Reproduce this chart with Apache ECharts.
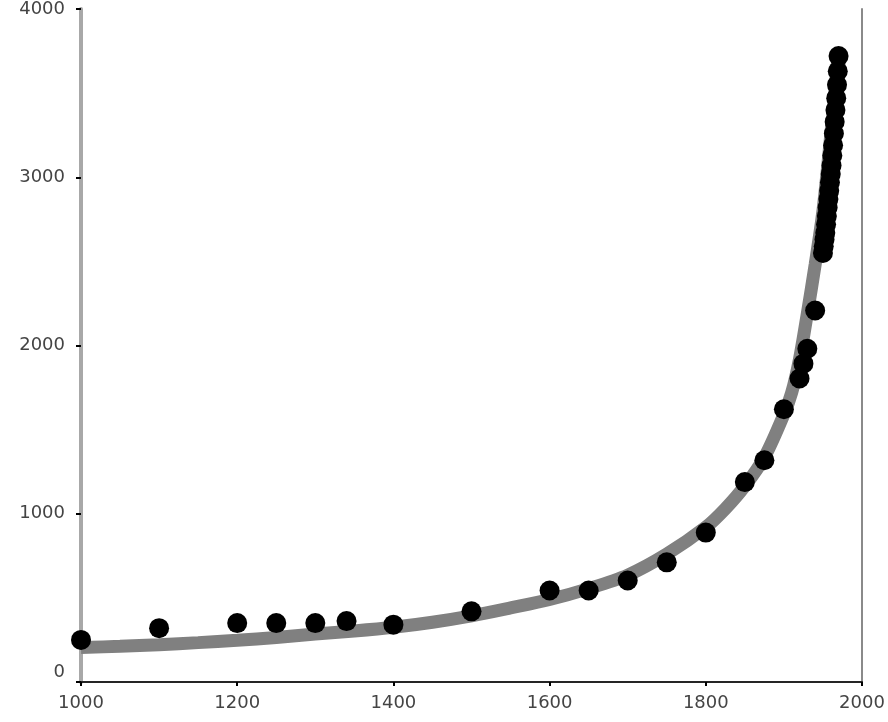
<!DOCTYPE html>
<html>
<head>
    <meta charset="utf-8" />
    <title></title>
    <style>
        html, body { margin: 0; padding: 0; background: #fff; }
        #chart { width: 888px; height: 722px; }
    </style>
</head>
<body>
    <div id="chart"></div>
    <script src="https://cdn.jsdelivr.net/npm/echarts@6/dist/echarts.min.js"></script>
    <script>
        // observed points (year, value)
        var years = [1000, 1100, 1200, 1250, 1300, 1340, 1400, 1500, 1600, 1650, 1700, 1750, 1800, 1850, 1875, 1900, 1920, 1925, 1930, 1940,
            1950, 1951, 1952, 1953, 1954, 1955, 1956, 1957, 1958, 1959, 1960, 1961, 1962, 1963, 1964, 1965, 1966, 1967, 1968, 1969, 1970];
        var values = [250, 320, 350, 350, 350, 362, 341, 420, 544, 544, 603, 711, 888, 1188, 1318, 1621, 1804, 1892, 1981, 2208,
            2550, 2590, 2630, 2670, 2720, 2770, 2820, 2870, 2920, 2970, 3020, 3070, 3130, 3190, 3260, 3330, 3400, 3470, 3550, 3630, 3720];

        // fitted curve
        var fitYears = [1000, 1050, 1100, 1150, 1200, 1250, 1300, 1350, 1400, 1450, 1500, 1550, 1600, 1650, 1700, 1750, 1800,
            1825, 1850, 1875, 1900, 1910, 1920, 1930, 1940, 1950, 1960, 1970];
        var fitValues = [205, 212, 222, 234, 248, 265, 285, 303, 325, 355, 393, 440, 490, 555, 635, 760, 920,
            1030, 1165, 1335, 1590, 1720, 1920, 2190, 2480, 2800, 3250, 3750];

        var xTicks = { min: 1000, max: 2000, interval: 200 };
        var yTicks = { min: 0, max: 4000, interval: 1000 };

        var points = years.map(function (y, i) { return [y, values[i]]; });
        var fit = fitYears.map(function (y, i) { return [y, fitValues[i]]; });

        var labelFont = {
            fontFamily: 'DejaVu Sans',
            fontSize: 18,
            color: '#444'
        };

        var option = {
            backgroundColor: '#fff',
            animation: false,
            grid: { left: 81, right: 26, top: 5, bottom: 40 },
            xAxis: [{
                type: 'value',
                min: xTicks.min,
                max: xTicks.max,
                interval: xTicks.interval,
                splitLine: { show: false },
                axisLine: { lineStyle: { color: '#333', width: 2 } },
                axisTick: { length: 4, lineStyle: { color: '#000', width: 2 } },
                axisLabel: Object.assign({
                    margin: 12,
                    formatter: function (v) { return String(v); }
                }, labelFont)
            }, {
                type: 'value',
                position: 'top',
                min: xTicks.min,
                max: xTicks.max,
                splitLine: { show: false },
                axisLine: { show: true, lineStyle: { color: '#222', width: 1.5 } },
                axisTick: { show: false },
                axisLabel: { show: false }
            }],
            yAxis: [{
                type: 'value',
                min: yTicks.min,
                max: yTicks.max,
                interval: yTicks.interval,
                splitLine: { show: false },
                axisLine: { show: true, lineStyle: { color: '#a8a8a8', width: 4 } },
                axisTick: { show: true, length: 5, lineStyle: { color: '#000', width: 2 } },
                axisLabel: Object.assign({
                    margin: 16,
                    formatter: function (v) { return v === 0 ? '{z|0}' : String(v); },
                    rich: { z: Object.assign({ padding: [0, 0, 20, 0] }, labelFont) }
                }, labelFont)
            }, {
                type: 'value',
                position: 'right',
                min: yTicks.min,
                max: yTicks.max,
                splitLine: { show: false },
                axisLine: { show: true, lineStyle: { color: '#8a8a8a', width: 2 } },
                axisTick: { show: false },
                axisLabel: { show: false }
            }],
            series: [{
                name: 'fit',
                type: 'line',
                data: fit,
                smooth: 0.3,
                showSymbol: false,
                z: 1,
                lineStyle: { color: '#808080', width: 13 }
            }, {
                name: 'observed',
                type: 'scatter',
                data: points,
                symbolSize: 20,
                z: 2,
                itemStyle: { color: '#000', opacity: 1 }
            }]
        };

        var chart = echarts.init(document.getElementById('chart'));
        chart.setOption(option);
    </script>
</body>
</html>
